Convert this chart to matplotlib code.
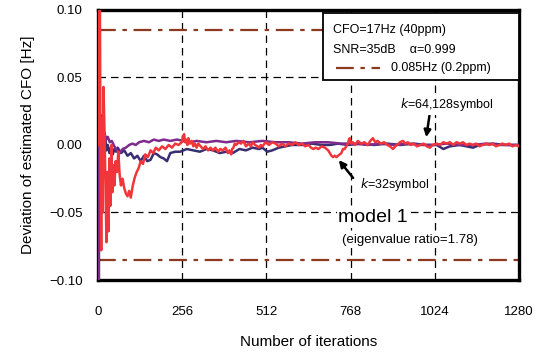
import numpy as np
import matplotlib.pyplot as plt
from matplotlib.lines import Line2D
from matplotlib.patches import Rectangle

plt.rcParams['font.family'] = ['Liberation Sans', 'DejaVu Sans']

# (iteration, deviation)
# k=32 symbol (red)
red_pts = [
    (0, 0.0), (2, 0.11), (4, 0.06), (6, 0.11), (8, -0.02), (10, -0.078), (12, 0.02),
    (14, -0.05), (17, 0.043), (20, 0.01), (23, -0.03), (26, -0.072), (29, -0.02),
    (32, -0.064), (35, -0.01), (38, -0.045), (41, 0.0), (44, -0.035), (47, -0.015),
    (50, -0.03), (54, -0.012), (58, -0.02), (62, -0.005), (66, -0.022), (70, -0.03),
    (75, -0.025), (80, -0.032), (85, -0.036), (90, -0.038), (95, -0.034), (100, -0.039),
    (106, -0.03), (112, -0.024), (118, -0.02), (124, -0.017), (130, -0.012), (137, -0.014),
    (144, -0.007), (152, -0.009), (160, -0.004), (168, -0.006), (176, -0.002), (185, -0.004),
    (195, -0.001), (205, -0.003), (215, 0.0), (225, -0.002), (235, 0.001), (245, 0.0),
    (255, 0.002), (258, 0.006), (262, 0.008), (265, 0.002), (268, 0.004), (272, 0.0),
    (275, 0.005), (280, 0.001), (285, 0.003), (290, -0.001), (295, 0.001), (300, -0.002),
    (305, 0.001), (312, -0.001), (320, -0.003), (327, -0.001), (335, -0.004), (342, -0.002),
    (350, -0.004), (357, -0.002), (365, -0.005), (372, -0.003), (380, -0.004), (388, -0.002),
    (395, -0.006), (400, -0.004), (405, -0.007), (408, -0.003), (412, -0.002), (416, 0.001),
    (420, 0.0), (428, 0.002), (435, 0.001), (442, 0.003), (450, -0.001), (458, 0.001),
    (465, -0.001), (470, 0.002), (478, 0.0), (485, -0.001), (490, -0.002), (495, 0.0),
    (500, -0.001), (510, 0.002), (520, 0.0), (530, 0.002), (540, 0.001), (550, -0.001),
    (560, 0.001), (570, -0.001), (580, 0.001), (590, 0.0), (600, 0.002), (610, 0.0),
    (620, 0.001), (630, -0.001), (640, 0.0), (648, -0.002), (655, -0.003), (662, -0.002),
    (670, -0.003), (680, -0.001), (690, -0.002), (700, -0.004), (705, -0.006), (710, -0.008),
    (715, -0.009), (720, -0.008), (725, -0.009), (730, -0.008), (735, -0.007), (740, -0.006),
    (745, -0.003), (750, -0.003), (755, -0.001), (760, 0.001), (763, 0.004), (766, 0.005),
    (770, 0.001), (775, 0.002), (782, 0.0), (790, 0.003), (800, 0.001), (810, 0.002),
    (820, 0.0), (828, 0.003), (836, 0.005), (843, 0.002), (850, 0.003), (860, 0.001),
    (870, 0.002), (880, 0.0), (888, -0.001), (897, -0.003), (904, -0.001), (910, 0.0),
    (918, 0.002), (927, 0.003), (935, 0.001), (942, 0.002), (950, 0.0), (960, 0.001),
    (970, -0.001), (980, 0.0), (990, 0.001), (1000, -0.001), (1009, -0.002), (1018, 0.0),
    (1030, 0.001), (1040, 0.0), (1050, 0.002), (1060, 0.001), (1070, 0.002), (1080, 0.0),
    (1090, 0.002), (1100, 0.001), (1110, 0.002), (1120, 0.0), (1130, 0.001), (1140, 0.0),
    (1150, 0.001), (1160, -0.001), (1170, 0.0), (1180, 0.001), (1190, 0.0), (1200, 0.001),
    (1210, -0.001), (1220, 0.0), (1230, 0.001), (1240, 0.0), (1250, 0.001), (1260, -0.001),
    (1270, 0.0), (1280, -0.001),
]

# k=64 symbol (navy)
navy_pts = [
    (0, 0.10), (3, 0.04), (6, 0.018), (9, 0.022), (12, 0.008), (15, 0.012), (18, 0.002),
    (22, 0.006), (26, -0.004), (30, 0.0), (35, -0.006), (40, -0.002), (45, -0.007),
    (50, -0.003), (55, -0.005), (60, -0.002), (70, -0.006), (80, -0.004), (90, -0.008),
    (100, -0.006), (110, -0.01), (120, -0.008), (130, -0.012), (140, -0.008), (150, -0.012),
    (160, -0.011), (170, -0.006), (180, -0.007), (190, -0.009), (200, -0.01), (210, -0.012),
    (220, -0.006), (235, -0.005), (250, -0.005), (270, -0.003), (290, -0.004), (310, -0.005),
    (330, -0.003), (350, -0.004), (370, -0.006), (390, -0.005), (410, -0.006), (430, -0.003),
    (450, -0.004), (470, -0.002), (490, -0.003), (500, -0.002), (515, -0.005), (530, -0.004),
    (550, -0.002), (570, -0.001), (590, 0.0), (620, 0.0), (650, 0.001), (680, 0.0),
    (705, 0.0), (730, 0.001), (760, 0.0), (800, 0.001), (840, 0.0), (880, 0.001), (920, 0.0),
    (960, 0.001), (1000, 0.0), (1030, 0.0), (1050, -0.003), (1070, -0.001), (1100, 0.0),
    (1140, -0.002), (1160, 0.0), (1200, 0.001), (1240, 0.0), (1280, 0.0),
]

# k=128 symbol (purple)
purple_pts = [
    (0, 0.0), (2, -0.10), (4, 0.03), (6, 0.018), (9, 0.015), (12, 0.01), (16, 0.008),
    (20, 0.009), (25, 0.004), (30, 0.006), (36, 0.002), (42, 0.003), (50, -0.001),
    (58, -0.004), (66, -0.006), (75, -0.003), (85, -0.002), (95, 0.0), (105, 0.001),
    (115, 0.0), (125, 0.002), (140, 0.003), (155, 0.002), (170, 0.004), (185, 0.003),
    (200, 0.004), (220, 0.003), (240, 0.004), (260, 0.003), (280, 0.002), (300, 0.003),
    (330, 0.002), (360, 0.003), (390, 0.002), (420, 0.003), (460, 0.002), (500, 0.003),
    (540, 0.002), (580, 0.002), (620, 0.001), (660, 0.002), (700, 0.002), (740, 0.001),
    (780, 0.001), (820, 0.0), (860, 0.001), (900, 0.0), (940, 0.001), (980, 0.0),
    (1020, 0.0), (1060, 0.001), (1100, 0.0), (1140, 0.0), (1180, 0.001), (1220, 0.0),
    (1260, 0.0), (1280, 0.0),
]

threshold = 0.085
x_ticks = [0, 256, 512, 768, 1024, 1280]
y_ticks = [-0.10, -0.05, 0.00, 0.05, 0.10]
y_ticklabels = ['\u22120.10', '\u22120.05', '0.00', '0.05', '0.10']

fig = plt.figure(figsize=(5.44, 3.54), dpi=100)
ax = fig.add_axes([0.180, 0.209, 0.774, 0.763])

# grid
for xv in x_ticks[1:-1]:
    ax.axvline(xv, color='black', lw=0.9, ls=(0, (6, 4)), zorder=1)
for yv in [-0.05, 0.05]:
    ax.axhline(yv, color='black', lw=0.9, ls=(0, (6, 4)), zorder=1)

# +/- 0.085 Hz limits
brown = '#8b3a1f'
for yv in [threshold, -threshold]:
    ax.axhline(yv, color=brown, lw=1.6, ls=(0, (8, 3, 2, 3)), zorder=2)

nx, ny = zip(*navy_pts)
px, py = zip(*purple_pts)
rx, ry = zip(*red_pts)
ax.plot(nx, ny, color='#3a2e72', lw=1.8, zorder=3)
ax.plot(px, py, color='#7e2b8c', lw=1.8, zorder=4)
ax.plot(rx, ry, color='#f0363a', lw=1.8, zorder=5)

ax.set_xlim(0, 1280)
ax.set_ylim(-0.10, 0.10)
ax.set_xticks(x_ticks)
ax.set_yticks(y_ticks)
ax.set_yticklabels(y_ticklabels)
ax.tick_params(length=0, labelsize=9.5)
ax.tick_params(axis='x', pad=19)
ax.tick_params(axis='y', pad=11)
for sp in ax.spines.values():
    sp.set_linewidth(2.4)

ax.set_xlabel('Number of iterations', fontsize=11, labelpad=12)
ax.set_ylabel('Deviation of estimated CFO [Hz]', fontsize=11, labelpad=10)

# legend-like box
ax.add_patch(Rectangle((0.534, 0.741), 0.466, 0.248, transform=ax.transAxes,
                       facecolor='white', edgecolor='black', lw=1.3, zorder=6))
ax.text(0.558, 0.926, 'CFO=17Hz (40ppm)', transform=ax.transAxes, fontsize=9,
        va='center', zorder=7)
ax.text(0.558, 0.852, 'SNR=35dB    \u03b1=0.999', transform=ax.transAxes, fontsize=9,
        va='center', zorder=7)
ax.add_line(Line2D([0.565, 0.670], [0.785, 0.785], transform=ax.transAxes, color=brown,
                   lw=1.6, ls=(0, (8, 3, 2, 3)), zorder=7))
ax.text(0.696, 0.785, '0.085Hz (0.2ppm)', transform=ax.transAxes, fontsize=9,
        va='center', zorder=7)

# annotations
white = dict(facecolor='white', edgecolor='none', pad=1)
ax.annotate('', xy=(997, 0.0037), xytext=(1009, 0.0237),
            arrowprops=dict(arrowstyle='-|>', color='black', lw=1.8, mutation_scale=10), zorder=8)
ax.text(918, 0.0296, '$k$=64,128symbol', fontsize=9, va='center', zorder=8, bbox=white)
ax.annotate('', xy=(727, -0.0096), xytext=(781, -0.026),
            arrowprops=dict(arrowstyle='-|>', color='black', lw=1.8, mutation_scale=10), zorder=8)
ax.text(797, -0.0296, '$k$=32symbol', fontsize=9, va='center', zorder=8, bbox=white)

ax.text(730, -0.054, 'model 1', fontsize=14, va='center', zorder=8, bbox=white)
ax.text(742, -0.0705, '(eigenvalue ratio=1.78)', fontsize=9.5, va='center', zorder=8,
        bbox=white)

fig.savefig('out.png', dpi=100)
